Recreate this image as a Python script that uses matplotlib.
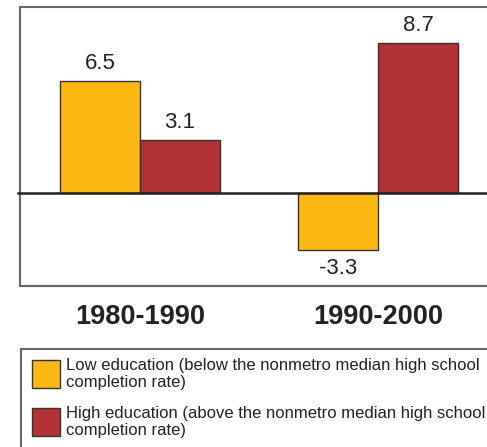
import matplotlib
matplotlib.use("Agg")
import matplotlib.pyplot as plt
from matplotlib.patches import Rectangle
import numpy as np

periods = ["1980-1990", "1990-2000"]
series_names = [
    "Low education (below the nonmetro median high school\ncompletion rate)",
    "High education (above the nonmetro median high school\ncompletion rate)",
]
low_edu = [6.5, -3.3]
high_edu = [3.1, 8.7]
colors = ["#FDB913", "#B23132"]

W, H = 487, 447
fig = plt.figure(figsize=(W / 100, H / 100), dpi=100)
plt.rcParams['font.family'] = ['Liberation Sans', 'DejaVu Sans']

def fx(px):
    return px / W

def fy(py):
    return 1 - py / H

ax = fig.add_axes([fx(20), fy(286), fx(498) - fx(20), fy(7) - fy(286)])
x = np.arange(len(periods))
bw = 0.336
for i, (vals, c) in enumerate(zip([low_edu, high_edu], colors)):
    pos = x + (i - 0.5) * bw
    bars = ax.bar(pos, vals, width=bw, color=c, edgecolor="#333333", linewidth=1.0, zorder=2)
    for b, v in zip(bars, vals):
        if v >= 0:
            ax.annotate(f"{v:.1f}", (b.get_x() + b.get_width() / 2, v), xytext=(0, 5),
                        textcoords="offset points", ha="center", va="bottom",
                        fontsize=16, color="#222222")
        else:
            ax.annotate(f"{v:.1f}", (b.get_x() + b.get_width() / 2, v), xytext=(0, -6),
                        textcoords="offset points", ha="center", va="top",
                        fontsize=16, color="#222222")

ax.set_xlim(-0.504, 1.504)
ax.set_ylim(-5.4, 10.8)
ax.axhline(0, color="#222222", linewidth=1.8, zorder=3, xmin=-0.005, xmax=1.0, clip_on=False)
ax.set_yticks([])
ax.set_xticks(x)
ax.set_xticklabels(periods, fontsize=19.5, fontweight="bold", color="#222222")
ax.tick_params(axis="x", length=0, pad=13)
for s in ax.spines.values():
    s.set_color("#666666")
    s.set_linewidth(1.5)

# Legend box
fig.patches.append(Rectangle((fx(20.5), fy(460)), fx(520) - fx(20.5), fy(349) - fy(460),
                             transform=fig.transFigure, facecolor="white",
                             edgecolor="#666666", linewidth=1.5))
patch_tops = [360, 408]
for name, c, top in zip(series_names, colors, patch_tops):
    fig.patches.append(Rectangle((fx(32), fy(top + 28)), fx(60) - fx(32), fy(top) - fy(top + 28),
                                 transform=fig.transFigure, facecolor=c,
                                 edgecolor="#333333", linewidth=1.0))
    fig.text(fx(66), fy(top - 2), name, ha="left", va="top", fontsize=12,
             color="#222222", linespacing=1.15)

fig.savefig("out.png", dpi=100)
